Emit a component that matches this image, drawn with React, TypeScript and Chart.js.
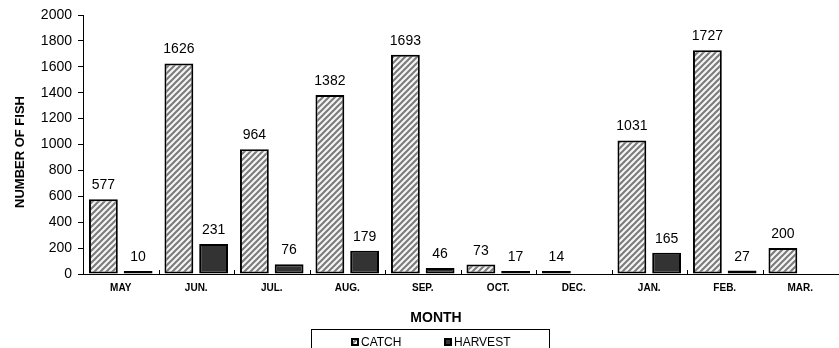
import React, { useEffect, useRef } from "react";
import { Chart, registerables } from "chart.js";

Chart.register(...registerables);

const months = ["MAY", "JUN.", "JUL.", "AUG.", "SEP.", "OCT.", "DEC.", "JAN.", "FEB.", "MAR."];
const catchCounts: (number | null)[] = [577, 1626, 964, 1382, 1693, 73, 14, 1031, 1727, 200];
const harvestCounts: (number | null)[] = [10, 231, 76, 179, 46, 17, null, 165, 27, null];
const seriesNames = ["CATCH", "HARVEST"];
const yTitle = "NUMBER OF FISH";
const xTitle = "MONTH";

const FONT = "'Liberation Sans', Arial, Helvetica, sans-serif";

function makeHatch(ctx: CanvasRenderingContext2D): CanvasPattern | string {
  const c = document.createElement("canvas");
  c.width = 6;
  c.height = 6;
  const g = c.getContext("2d");
  if (!g) return "#bbbbbb";
  g.fillStyle = "#f4f4f4";
  g.fillRect(0, 0, 6, 6);
  g.strokeStyle = "#7a7a7a";
  g.lineWidth = 2;
  g.beginPath();
  g.moveTo(-1, 7);
  g.lineTo(7, -1);
  g.moveTo(-1, 1);
  g.lineTo(1, -1);
  g.moveTo(5, 7);
  g.lineTo(7, 5);
  g.stroke();
  return ctx.createPattern(c, "repeat") || "#bbbbbb";
}

export default function App() {
  const ref = useRef<HTMLCanvasElement | null>(null);

  useEffect(() => {
    const canvas = ref.current;
    if (!canvas) return;
    const ctx0 = canvas.getContext("2d")!;
    const hatch = makeHatch(ctx0);
    const dark = "#333333";

    const overlay = {
      id: "overlay",
      afterDatasetsDraw(chart: any) {
        const ctx = chart.ctx as CanvasRenderingContext2D;
        ctx.save();
        ctx.fillStyle = "#000";
        ctx.font = `14px ${FONT}`;
        ctx.textAlign = "center";
        ctx.textBaseline = "alphabetic";
        chart.data.datasets.forEach((ds: any, di: number) => {
          const meta = chart.getDatasetMeta(di);
          meta.data.forEach((el: any, i: number) => {
            const v = ds.data[i];
            if (v == null) return;
            ctx.fillText(String(v), el.x, el.y - 10);
          });
        });
        ctx.restore();
      },
      afterDraw(chart: any) {
        const ctx = chart.ctx as CanvasRenderingContext2D;
        const ca = chart.chartArea;
        ctx.save();
        // inner category ticks on x axis
        ctx.strokeStyle = "#000";
        ctx.lineWidth = 1;
        const n = months.length;
        const w = (ca.right - ca.left) / n;
        ctx.beginPath();
        for (let i = 1; i < n; i++) {
          const x = Math.round(ca.left + i * w) + 0.5;
          ctx.moveTo(x, ca.bottom);
          ctx.lineTo(x, ca.bottom - 4);
        }
        ctx.stroke();

        // y title
        ctx.fillStyle = "#000";
        ctx.font = `bold 13px ${FONT}`;
        ctx.textAlign = "center";
        ctx.textBaseline = "middle";
        ctx.save();
        ctx.translate(20, 152);
        ctx.rotate(-Math.PI / 2);
        ctx.fillText(yTitle, 0, 0);
        ctx.restore();

        // x title
        ctx.font = `bold 14px ${FONT}`;
        ctx.fillText(xTitle, 436, 318);

        // legend box
        ctx.strokeStyle = "#000";
        ctx.lineWidth = 1;
        ctx.strokeRect(311.5, 329.5, 238, 30);

        // legend items
        const items = [
          { x: 351, fill: hatch, label: seriesNames[0] },
          { x: 444, fill: dark, label: seriesNames[1] },
        ];
        ctx.font = `12px ${FONT}`;
        ctx.textAlign = "left";
        ctx.textBaseline = "middle";
        items.forEach((it) => {
          ctx.fillStyle = it.fill as any;
          ctx.fillRect(it.x, 338, 8, 8);
          ctx.lineWidth = 2;
          ctx.strokeStyle = "#000";
          ctx.strokeRect(it.x + 1, 339, 6, 6);
          ctx.fillStyle = "#000";
          ctx.fillText(it.label, it.x + 10, 342.5);
        });
        ctx.restore();
      },
    };

    const chart = new Chart(canvas, {
      type: "bar",
      data: {
        labels: months,
        datasets: [
          {
            label: seriesNames[0],
            data: catchCounts,
            backgroundColor: hatch as any,
            borderColor: "#000",
            borderWidth: 2,
            borderSkipped: false,
            minBarLength: 3,
          },
          {
            label: seriesNames[1],
            data: harvestCounts,
            backgroundColor: dark,
            borderColor: "#000",
            borderWidth: 2,
            borderSkipped: false,
            minBarLength: 3,
          },
        ],
      },
      options: {
        responsive: false,
        animation: false,
        devicePixelRatio: 1,
        datasets: {
          bar: { categoryPercentage: 0.92, barPercentage: 0.83 },
        },
        layout: { padding: { top: 15, right: 1, left: 0, bottom: 0 } },
        plugins: {
          legend: { display: false },
          tooltip: { enabled: false },
          title: { display: false },
        },
        scales: {
          x: {
            type: "category",
            offset: true,
            grid: { display: true, drawOnChartArea: false, drawTicks: false },
            border: { display: true, color: "#000", width: 1 },
            ticks: {
              color: "#000",
              padding: 8,
              maxRotation: 0,
              autoSkip: false,
              font: { family: FONT, size: 10, weight: "bold" },
            },
            afterFit: (s: any) => {
              s.height = 74;
            },
          },
          y: {
            min: 0,
            max: 2000,
            ticks: {
              stepSize: 200,
              color: "#000",
              padding: 6,
              font: { family: FONT, size: 14 },
              callback: (v: any) => String(v),
            },
            grid: { display: true, drawOnChartArea: false, drawTicks: true, tickLength: 5, color: "#000" },
            border: { display: true, color: "#000", width: 1 },
            afterFit: (s: any) => {
              s.width = 83;
            },
          },
        },
      },
      plugins: [overlay],
    } as any);

    return () => chart.destroy();
  }, []);

  return (
    <div style={{ position: "absolute", left: 0, top: 0, width: 839, height: 348, background: "#fff" }}>
      <canvas ref={ref} width={839} height={348} style={{ display: "block", width: 839, height: 348 }} />
    </div>
  );
}
